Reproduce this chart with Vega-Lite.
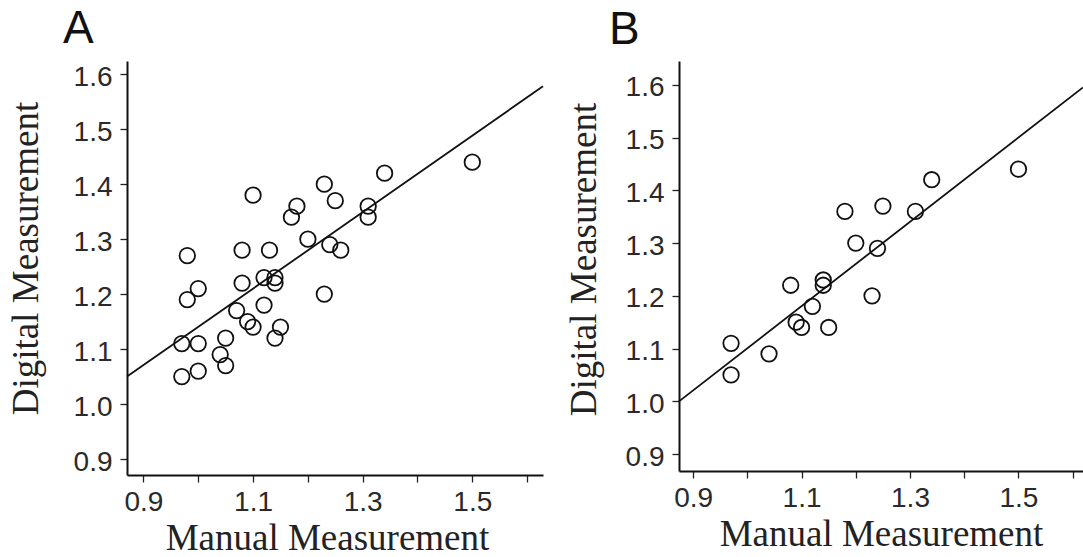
{
  "$schema": "https://vega.github.io/schema/vega-lite/v6.json",
  "padding": {"left": 7, "top": 6, "right": 0, "bottom": 0},
  "background": "white",
  "spacing": 18,
  "config": {
    "view": {"stroke": null},
    "axis": {
      "domainColor": "#111",
      "domainWidth": 2,
      "tickColor": "#222",
      "tickWidth": 1.3,
      "tickSize": 7,
      "grid": false,
      "labelFont": "Liberation Sans",
      "labelFontSize": 28,
      "labelColor": "#2a2a2a",
      "labelPadding": 8,
      "titleFont": "Liberation Serif",
      "titleFontSize": 37,
      "titleFontWeight": "normal",
      "titleColor": "#222"
    },
    "title": {"font": "Liberation Sans", "fontSize": 46, "fontWeight": "normal", "color": "#111", "anchor": "start", "frame": "group"}
  },
  "datasets": {
    "a": [
      {"manual": 0.98, "digital": 1.27}, {"manual": 0.98, "digital": 1.19}, {"manual": 1.0, "digital": 1.21},
      {"manual": 0.97, "digital": 1.11}, {"manual": 1.0, "digital": 1.11}, {"manual": 0.97, "digital": 1.05},
      {"manual": 1.0, "digital": 1.06}, {"manual": 1.04, "digital": 1.09}, {"manual": 1.05, "digital": 1.12},
      {"manual": 1.05, "digital": 1.07}, {"manual": 1.07, "digital": 1.17}, {"manual": 1.08, "digital": 1.28},
      {"manual": 1.08, "digital": 1.22}, {"manual": 1.09, "digital": 1.15}, {"manual": 1.1, "digital": 1.14},
      {"manual": 1.1, "digital": 1.38}, {"manual": 1.12, "digital": 1.18}, {"manual": 1.12, "digital": 1.23},
      {"manual": 1.13, "digital": 1.28}, {"manual": 1.14, "digital": 1.23}, {"manual": 1.14, "digital": 1.22},
      {"manual": 1.14, "digital": 1.12}, {"manual": 1.15, "digital": 1.14}, {"manual": 1.17, "digital": 1.34},
      {"manual": 1.18, "digital": 1.36}, {"manual": 1.2, "digital": 1.3}, {"manual": 1.23, "digital": 1.4},
      {"manual": 1.23, "digital": 1.2}, {"manual": 1.24, "digital": 1.29}, {"manual": 1.25, "digital": 1.37},
      {"manual": 1.26, "digital": 1.28}, {"manual": 1.31, "digital": 1.36}, {"manual": 1.31, "digital": 1.34},
      {"manual": 1.34, "digital": 1.42}, {"manual": 1.5, "digital": 1.44}
    ],
    "b": [
      {"manual": 0.97, "digital": 1.11}, {"manual": 0.97, "digital": 1.05}, {"manual": 1.04, "digital": 1.09},
      {"manual": 1.08, "digital": 1.22}, {"manual": 1.09, "digital": 1.15}, {"manual": 1.1, "digital": 1.14},
      {"manual": 1.12, "digital": 1.18}, {"manual": 1.14, "digital": 1.23}, {"manual": 1.14, "digital": 1.22},
      {"manual": 1.15, "digital": 1.14}, {"manual": 1.18, "digital": 1.36}, {"manual": 1.2, "digital": 1.3},
      {"manual": 1.23, "digital": 1.2}, {"manual": 1.24, "digital": 1.29}, {"manual": 1.25, "digital": 1.37},
      {"manual": 1.31, "digital": 1.36}, {"manual": 1.34, "digital": 1.42}, {"manual": 1.5, "digital": 1.44}
    ],
    "fitA": [{"manual": 0.87, "digital": 1.05}, {"manual": 1.629, "digital": 1.578}],
    "fitB": [{"manual": 0.874, "digital": 1.0}, {"manual": 1.619, "digital": 1.595}]
  },
  "hconcat": [
    {
      "title": {"text": "A", "dx": -64, "offset": 8},
      "width": 416,
      "height": 414,
      "layer": [
        {
          "data": {"name": "fitA"},
          "mark": {"type": "line", "color": "#111", "strokeWidth": 1.8},
          "encoding": {
            "x": {"field": "manual", "type": "quantitative"},
            "y": {"field": "digital", "type": "quantitative"}
          }
        },
        {
          "data": {"name": "a"},
          "mark": {"type": "point", "shape": "circle", "filled": false, "color": "#111", "strokeWidth": 1.8, "size": 240, "opacity": 1},
          "encoding": {
            "x": {"field": "manual", "type": "quantitative"},
            "y": {"field": "digital", "type": "quantitative"}
          }
        }
      ],
      "encoding": {
        "x": {"field": "manual", "type": "quantitative", "title": "Manual Measurement",
          "scale": {"domain": [0.87, 1.629], "nice": false, "zero": false},
          "axis": {"values": [0.9, 1.0, 1.1, 1.2, 1.3, 1.4, 1.5, 1.6], "labelExpr": "round(datum.value*10) % 2 == 1 ? format(datum.value, '.1f') : ''", "titlePadding": 4, "labelPadding": 6, "titleX": 200}},
        "y": {"field": "digital", "type": "quantitative", "title": "Digital Measurement",
          "scale": {"domain": [0.871, 1.624], "nice": false, "zero": false},
          "axis": {"values": [0.9, 1.0, 1.1, 1.2, 1.3, 1.4, 1.5, 1.6], "format": ".1f", "titlePadding": 28, "titleY": 197, "labelOffset": 3}}
      }
    },
    {
      "title": {"text": "B", "dx": -70, "offset": 7},
      "width": 404,
      "height": 410,
      "layer": [
        {
          "data": {"name": "fitB"},
          "mark": {"type": "line", "color": "#111", "strokeWidth": 1.8},
          "encoding": {
            "x": {"field": "manual", "type": "quantitative"},
            "y": {"field": "digital", "type": "quantitative"}
          }
        },
        {
          "data": {"name": "b"},
          "mark": {"type": "point", "shape": "circle", "filled": false, "color": "#111", "strokeWidth": 1.8, "size": 240, "opacity": 1},
          "encoding": {
            "x": {"field": "manual", "type": "quantitative"},
            "y": {"field": "digital", "type": "quantitative"}
          }
        }
      ],
      "encoding": {
        "x": {"field": "manual", "type": "quantitative", "title": "Manual Measurement",
          "scale": {"domain": [0.874, 1.619], "nice": false, "zero": false},
          "axis": {"values": [0.9, 1.0, 1.1, 1.2, 1.3, 1.4, 1.5, 1.6], "labelExpr": "round(datum.value*10) % 2 == 1 ? format(datum.value, '.1f') : ''", "titlePadding": 4, "labelPadding": 6}},
        "y": {"field": "digital", "type": "quantitative", "title": "Digital Measurement",
          "scale": {"domain": [0.868, 1.645], "nice": false, "zero": false},
          "axis": {"values": [0.9, 1.0, 1.1, 1.2, 1.3, 1.4, 1.5, 1.6], "format": ".1f", "titlePadding": 22, "titleY": 198, "labelOffset": 3}}
      }
    }
  ]
}
